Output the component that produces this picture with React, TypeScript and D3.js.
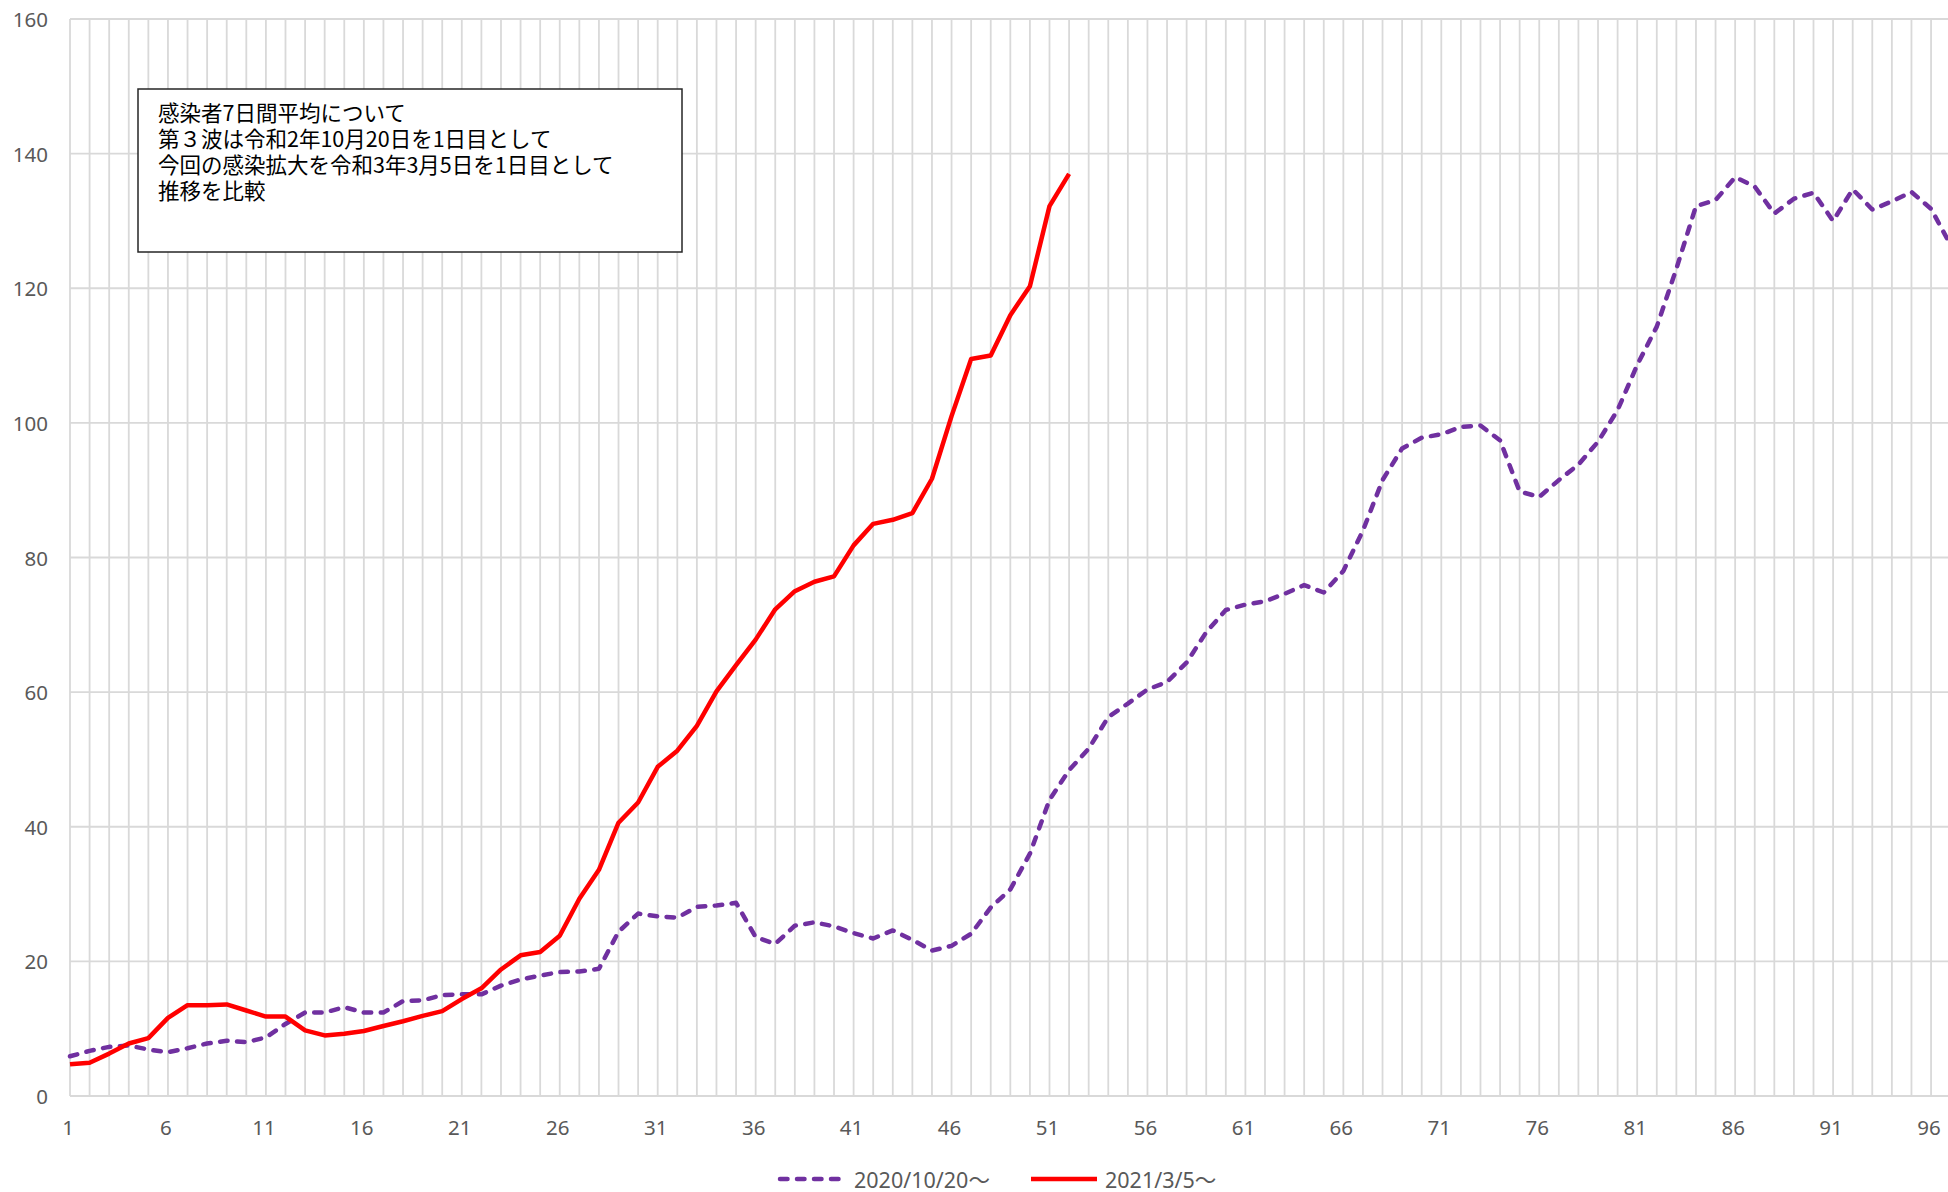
import * as d3 from "d3";
import React, { useRef, useEffect } from "react";

// day index (1日目, 2日目, ...)
const days = d3.range(1, 98);
const xTickDays = [1, 6, 11, 16, 21, 26, 31, 36, 41, 46, 51, 56, 61, 66, 71, 76, 81, 86, 91, 96];
const yTicks = [0, 20, 40, 60, 80, 100, 120, 140, 160];

const seriesNames = ["2020/10/20～", "2021/3/5～"];

// 第3波 (2020/10/20 start)
const wave3 = [
  5.9, 6.7, 7.3, 7.5, 6.9, 6.5, 7.1, 7.8, 8.2, 8.0,
  8.7, 10.7, 12.4, 12.4, 13.2, 12.4, 12.4, 14.1, 14.2, 15.0,
  15.1, 15.1, 16.4, 17.3, 17.9, 18.4, 18.5, 18.9, 24.4, 27.1,
  26.7, 26.5, 28.1, 28.3, 28.7, 23.6, 22.6, 25.3, 25.8, 25.2,
  24.2, 23.4, 24.6, 23.2, 21.6, 22.3, 24.1, 28.0, 30.7, 36.0,
  44.0, 48.4, 51.6, 56.3, 58.3, 60.4, 61.5, 64.4, 68.9, 72.2,
  73.0, 73.5, 74.6, 75.9, 74.8, 78.0, 84.0, 91.5, 96.2, 97.8,
  98.3, 99.4, 99.6, 97.4, 89.8, 89.0, 91.5, 93.8, 97.2, 101.9,
  108.6, 114.3, 122.9, 132.2, 133.1, 136.5, 135.1, 131.1, 133.3, 134.2,
  130.0, 134.7, 131.7, 132.9, 134.3, 131.8, 126.4
];

// 今回 (2021/3/5 start)
const current = [
  4.7, 4.95, 6.3, 7.8, 8.6, 11.6, 13.5, 13.5, 13.6, 12.7,
  11.8, 11.8, 9.75, 9.0, 9.25, 9.65, 10.4, 11.1, 11.9, 12.6,
  14.4, 16.0, 18.8, 20.9, 21.4, 23.8, 29.3, 33.6, 40.6, 43.6,
  48.9, 51.3, 55.0, 60.1, 64.0, 67.8, 72.3, 75.0, 76.4, 77.2,
  81.8, 85.0, 85.6, 86.6, 91.7, 101.0, 109.5, 110.0, 116.0, 120.3,
  132.2, 137.0
];

const noteLines = [
  "感染者7日間平均について",
  "第３波は令和2年10月20日を1日目として",
  "今回の感染拡大を令和3年3月5日を1日目として",
  "推移を比較"
];

const W = 1948;
const H = 1192;
const left = 70;
const right = 1948;
const top = 19;
const bottom = 1096;
const step = 19.59;

const PURPLE = "#7030A0";
const RED = "#FF0000";
const GRID = "#D9D9D9";
const LABEL = "#595959";
const FONT = "'Noto Sans', 'Noto Sans CJK JP', sans-serif";
const CJK = "'Noto Sans CJK JP', sans-serif";

export default function App() {
  const svgRef = useRef(null);

  useEffect(() => {
    const svgEl = d3.select(svgRef.current);
    svgEl.selectAll("*").remove();

    const x = d3.scaleLinear().domain([1, 97]).range([left, left + 96 * step]);
    const y = d3.scaleLinear().domain([0, 160]).range([bottom, top]);

    svgEl.append("defs").append("clipPath").attr("id", "plotClip")
      .append("rect").attr("x", left - 4).attr("y", 0).attr("width", right - left + 4).attr("height", H);

    const svg = svgEl.append("g");

    // horizontal gridlines
    svg.append("g").selectAll("line").data(yTicks).enter().append("line")
      .attr("x1", left).attr("x2", right)
      .attr("y1", (d) => y(d)).attr("y2", (d) => y(d))
      .attr("stroke", GRID).attr("stroke-width", 1.8);

    // vertical gridlines, one per day
    svg.append("g").selectAll("line").data(days.filter((d) => x(d) <= right)).enter().append("line")
      .attr("x1", (d) => x(d)).attr("x2", (d) => x(d))
      .attr("y1", top).attr("y2", bottom)
      .attr("stroke", GRID).attr("stroke-width", 1.8);

    // y labels
    svg.append("g").selectAll("text").data(yTicks).enter().append("text")
      .attr("x", 48).attr("y", (d) => y(d))
      .attr("text-anchor", "end").attr("dominant-baseline", "central")
      .attr("font-family", FONT).attr("font-size", 20.5).attr("fill", LABEL)
      .text((d) => d);

    // x labels
    svg.append("g").selectAll("text").data(xTickDays).enter().append("text")
      .attr("x", (d) => x(d) - 2).attr("y", 1127)
      .attr("text-anchor", "middle").attr("dominant-baseline", "central")
      .attr("font-family", FONT).attr("font-size", 20.5).attr("fill", LABEL)
      .text((d) => d);

    const line = d3.line().x((d, i) => x(i + 1)).y((d) => y(d));

    const plot = svg.append("g").attr("clip-path", "url(#plotClip)");
    plot.append("path").datum(wave3)
      .attr("d", line).attr("fill", "none")
      .attr("stroke", PURPLE).attr("stroke-width", 4.5)
      .attr("stroke-dasharray", "7.5 9.5").attr("stroke-linecap", "round")
      .attr("stroke-linejoin", "round");
    plot.append("path").datum(current)
      .attr("d", line).attr("fill", "none")
      .attr("stroke", RED).attr("stroke-width", 4.5)
      .attr("stroke-linejoin", "round");

    // note box
    const note = svg.append("g");
    note.append("rect")
      .attr("x", 138).attr("y", 89).attr("width", 544).attr("height", 163)
      .attr("fill", "#fff").attr("stroke", "#262626").attr("stroke-width", 1.5);
    note.selectAll("text.note").data(noteLines).enter().append("text")
      .attr("class", "note")
      .attr("x", 158).attr("y", (d, i) => 111.5 + i * 26)
      .attr("dominant-baseline", "central")
      .attr("font-family", CJK).attr("font-size", 21.5).attr("fill", "#000")
      .text((d) => d);

    // legend
    const legend = svg.append("g");
    const items = [
      { name: seriesNames[0], color: PURPLE, dash: "7.5 9.5", x0: 780 },
      { name: seriesNames[1], color: RED, dash: null, x0: 1031 }
    ];
    items.forEach((it) => {
      const s = legend.append("line")
        .attr("x1", it.x0).attr("x2", it.x0 + 66)
        .attr("y1", 1179).attr("y2", 1179)
        .attr("stroke", it.color).attr("stroke-width", 4.5);
      if (it.dash) s.attr("stroke-dasharray", it.dash).attr("stroke-linecap", "round");
      legend.append("text")
        .attr("x", it.x0 + 74).attr("y", 1179)
        .attr("dominant-baseline", "central")
        .attr("font-family", FONT).attr("font-size", 21.5).attr("fill", LABEL)
        .text(it.name);
    });
  }, []);

  return (
    <svg
      ref={svgRef}
      width={W}
      height={H}
      viewBox={`0 0 ${W} ${H}`}
      style={{ position: "absolute", left: 0, top: 0, background: "#fff" }}
    />
  );
}
